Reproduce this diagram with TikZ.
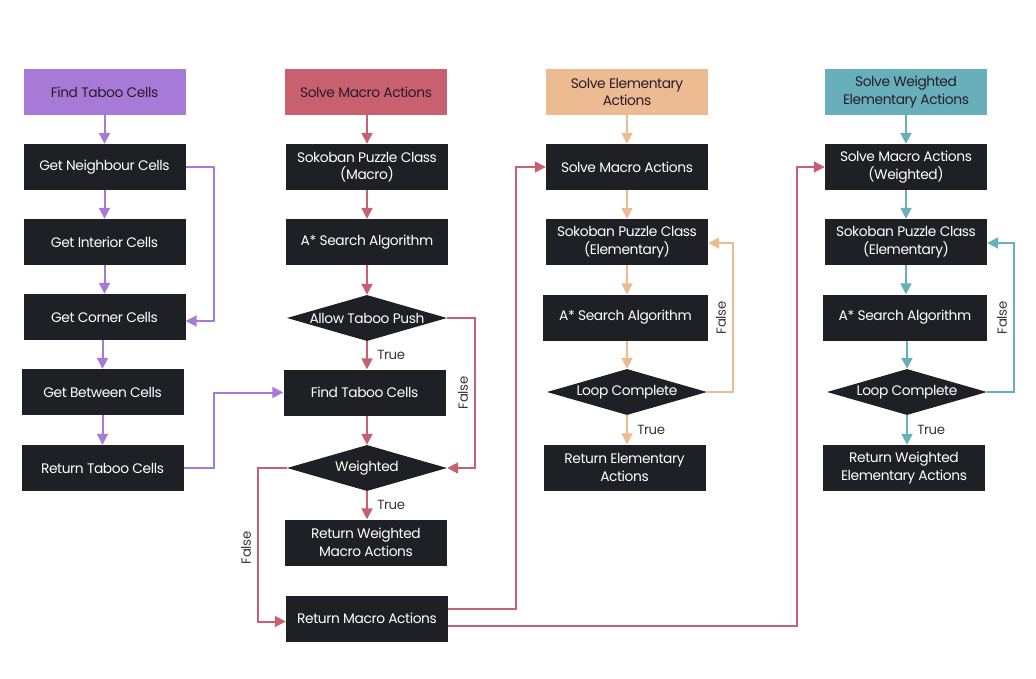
\documentclass[tikz,border=0pt]{standalone}
\usepackage{fontspec}
\setmainfont{Poppins}[LetterSpace=-3]
\usetikzlibrary{arrows.meta,shapes.geometric,calc}
\definecolor{cpur}{RGB}{168,122,216}
\definecolor{cred}{RGB}{201,96,111}
\definecolor{corg}{RGB}{237,187,146}
\definecolor{cteal}{RGB}{103,175,186}
\definecolor{cdark}{RGB}{31,31,38}
\definecolor{ctxt}{RGB}{40,28,40}
\begin{document}
\begin{tikzpicture}[x=1pt,y=-1pt,
  box/.style={rectangle,fill=cdark,text=white,minimum width=162pt,minimum height=46pt,inner sep=2pt,align=center,font=\fontsize{13.8}{17.5}\selectfont},
  hdr/.style={box,text=ctxt},
  dia/.style={diamond,fill=cdark,minimum width=160pt,minimum height=46pt,inner sep=0pt},
  dtxt/.style={text=white,font=\fontsize{13.8}{17.5}\selectfont},
  lbl/.style={text=ctxt!90,font=\fontsize{13.3}{15}\selectfont},
  arr/.style={line width=2pt,-{Triangle[length=11pt,width=11pt]}},
  parr/.style={arr,draw=cpur},
  rarr/.style={arr,draw=cred},
  oarr/.style={arr,draw=corg},
  tarr/.style={arr,draw=cteal}]
\useasboundingbox (0,0) rectangle (1036,678);
% column 1
\node[hdr,fill=cpur] (h1) at (104.5,92) {Find Taboo Cells};
\node[box] (n1) at (104.5,167) {Get Neighbour Cells};
\node[box] (i1) at (104.5,242) {Get Interior Cells};
\node[box] (c1) at (104.5,317) {Get Corner Cells};
\node[box] (b1) at (102.5,392) {Get Between Cells};
\node[box] (r1) at (102.5,468) {Return Taboo Cells};
% column 2
\node[hdr,fill=cred] (h2) at (366,92) {Solve Macro Actions};
\node[box] (s2) at (367,167) {Sokoban Puzzle Class\\(Macro)};
\node[box] (a2) at (367,242) {A* Search Algorithm};
\node[dia] (d2) at (367,318) {};
\node[dtxt] (d2t) at (d2.center) {Allow Taboo Push};
\node[box] (f2) at (364.5,392.5) {Find Taboo Cells};
\node[dia] (w2) at (367,468) {};
\node[dtxt] (w2t) at (w2.center) {Weighted};
\node[box] (rw2) at (366,542.5) {Return Weighted\\Macro Actions};
\node[box] (rm2) at (367,618.5) {Return Macro Actions};
% column 3
\node[hdr,fill=corg] (h3) at (627,92) {Solve Elementary\\Actions};
\node[box] (sm3) at (627,167) {Solve Macro Actions};
\node[box] (sk3) at (627,242) {Sokoban Puzzle Class\\(Elementary)};
\node[box,minimum width=165pt] (a3) at (625.5,317.5) {A* Search Algorithm};
\node[dia] (d3) at (627,392) {};
\node[dtxt] (d3t) at (d3.center) {Loop Complete};
\node[box] (re3) at (624.5,467.5) {Return Elementary\\Actions};
% column 4
\node[hdr,fill=cteal] (h4) at (906,92) {Solve Weighted\\Elementary Actions};
\node[box] (sm4) at (906,167) {Solve Macro Actions\\(Weighted)};
\node[box] (sk4) at (906,242) {Sokoban Puzzle Class\\(Elementary)};
\node[box,minimum width=164pt] (a4) at (905,317.5) {A* Search Algorithm};
\node[dia] (d4) at (907,392) {};
\node[dtxt] (d4t) at (d4.center) {Loop Complete};
\node[box] (re4) at (904,468) {Return Weighted\\Elementary Actions};
% column 1 edges
\draw[parr] (h1) -- (n1);
\draw[parr] (n1) -- (i1);
\draw[parr] (i1) -- (c1);
\draw[parr] (c1.south -| b1.north) -- (b1);
\draw[parr] (b1) -- (r1);
\draw[parr] (n1.east) -- ++(28,0) |- ([yshift=-4pt]c1.east);
\draw[parr] (r1.east) -- ++(30,0) |- (f2.west);
% column 2 edges
\draw[rarr] (h2.south -| s2.north) -- (s2);
\draw[rarr] (s2) -- (a2);
\draw[rarr] (a2.south) -- (d2.north);
\draw[rarr] (d2.south) -- node[lbl,right=6pt]{True} (d2.south |- f2.north);
\draw[rarr] (f2.south -| w2.north) -- (w2.north);
\draw[rarr] (w2.south) -- node[lbl,right=6pt]{True} (w2.south |- rw2.north);
\draw[rarr] (d2.east) -- ++(28,0) coordinate (fa) |- (w2.east);
\node[lbl,rotate=90] (fl2) at (463,393) {False};
\draw[rarr] (w2.west) -- ++(-29,0) |- ([yshift=-3pt]rm2.west);
\node[lbl,rotate=90] (fl2b) at (246,548) {False};
\draw[rarr] ([yshift=10pt]rm2.east) -- (516,608.5) |- (sm3.west);
\draw[rarr] ([yshift=-7pt]rm2.east) -- (797,625.5) |- (sm4.west);
% column 3 edges
\draw[oarr] (h3) -- (sm3);
\draw[oarr] (sm3) -- (sk3);
\draw[oarr] (sk3.south) -- (sk3.south |- a3.north);
\draw[oarr] (a3.south -| d3.north) -- (d3.north);
\draw[oarr] (d3.south) -- node[lbl,right=6pt]{True} (d3.south |- re3.north);
\draw[oarr] (d3.east) -- ++(26,0) |- ([yshift=-1pt]sk3.east);
\node[lbl,rotate=90] (fl3) at (721,318) {False};
% column 4 edges
\draw[tarr] (h4) -- (sm4);
\draw[tarr] (sm4) -- (sk4);
\draw[tarr] (sk4.south) -- (sk4.south |- a4.north);
\draw[tarr] (a4.south -| d4.north) -- (d4.north);
\draw[tarr] (d4.south) -- node[lbl,right=6pt]{True} (d4.south |- re4.north);
\draw[tarr] (d4.east) -- ++(27,0) |- ([yshift=-1pt]sk4.east);
\node[lbl,rotate=90] (fl4) at (1002,318) {False};
\end{tikzpicture}
\end{document}
